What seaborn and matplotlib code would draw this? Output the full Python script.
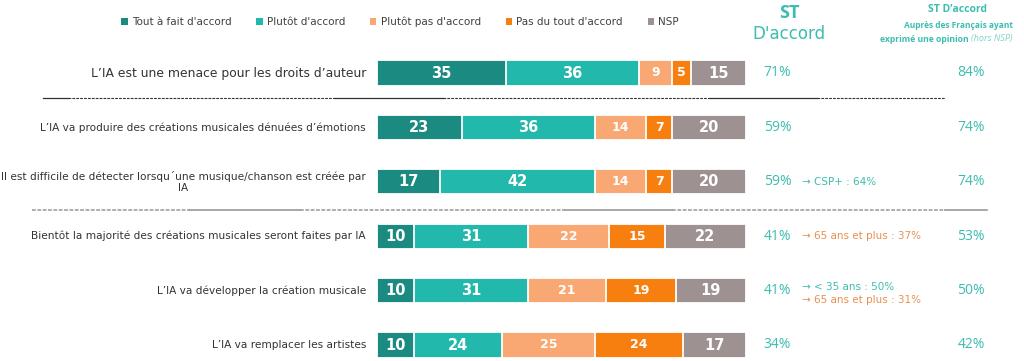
import numpy as np
import pandas as pd
import seaborn as sns
import matplotlib.pyplot as plt
from matplotlib.patches import Patch

statements = [
    "L\u2019IA est une menace pour les droits d\u2019auteur",
    "L\u2019IA va produire des cr\u00e9ations musicales d\u00e9nu\u00e9es d\u2019\u00e9motions",
    "Il est difficile de d\u00e9tecter lorsqu\u00b4une musique/chanson est cr\u00e9\u00e9e par\nIA",
    "Bient\u00f4t la majorit\u00e9 des cr\u00e9ations musicales seront faites par IA",
    "L\u2019IA va d\u00e9velopper la cr\u00e9ation musicale",
    "L\u2019IA va remplacer les artistes",
]
categories = ["Tout \u00e0 fait d'accord", "Plut\u00f4t d'accord", "Plut\u00f4t pas d'accord",
              "Pas du tout d'accord", "NSP"]
tout_a_fait = [35, 23, 17, 10, 10, 10]
plutot = [36, 36, 42, 31, 31, 24]
plutot_pas = [9, 14, 14, 22, 21, 25]
pas_du_tout = [5, 7, 7, 15, 19, 24]
nsp = [15, 20, 20, 22, 19, 17]
st_accord = [71, 59, 59, 41, 41, 34]
st_hors_nsp = [84, 74, 74, 53, 50, 42]

colors = ["#1b8a80", "#22b8ab", "#f9a873", "#f77f10", "#9e9191"]
teal_txt = "#3dbdb0"
orange_txt = "#e8904f"

series = [tout_a_fait, plutot, plutot_pas, pas_du_tout, nsp]
df = pd.DataFrame({"statement": statements})
cum = np.cumsum(np.array(series), axis=0)

fig = plt.figure(figsize=(10.24, 3.61), dpi=100)
ov = fig.add_axes([0, 0, 1, 1])
ov.set_xlim(0, 1024)
ov.set_ylim(361, 0)
ov.axis("off")

ax = fig.add_axes([377 / 1024, 0, 369 / 1024, 1])
# draw from the full stack down so each shorter bar sits on top
for k in range(len(series) - 1, -1, -1):
    df["val"] = cum[k]
    sns.barplot(data=df, x="val", y="statement", color=colors[k], saturation=1,
                width=0.46, edgecolor="white", linewidth=1.3, errorbar=None,
                orient="h", ax=ax)
ax.set_xlim(0, 100)
ax.set_ylim((361 - 73) / 54.4, -73 / 54.4)
ax.axis("off")

base = "DejaVu Sans"
num_font = "Open Sans"

# segment labels
for i in range(len(statements)):
    start = 0
    for k, s in enumerate(series):
        v = s[i]
        small = k in (2, 3)
        ax.text(start + v / 2, i, str(v), ha="center", va="center", color="white",
                fontweight="bold", fontsize=9 if small else 10.5, family=base)
        start += v
    ax.text(-3, i, statements[i], ha="right", va="center", multialignment="center",
            fontsize=8.9 if i == 0 else 7.6, color="#333333", family=base, clip_on=False)
    ax.text(104.8, i, f"{st_accord[i]}%", ha="left", va="center", fontsize=10,
            color=teal_txt, family=num_font, clip_on=False)
    ax.text(157.3, i, f"{st_hors_nsp[i]}%", ha="left", va="center", fontsize=10,
            color=teal_txt, family=num_font, clip_on=False)

# notes
note_kw = dict(ha="left", va="center", fontsize=7.5, family=base, clip_on=False)
ax.text(115.2, 2, "\u2192 CSP+ : 64%", color=teal_txt, **note_kw)
ax.text(115.2, 3, "\u2192 65 ans et plus : 37%", color=orange_txt, **note_kw)
ax.text(115.2, 4 - 0.06, "\u2192 < 35 ans : 50%", color=teal_txt, **note_kw)
ax.text(115.2, 4 + 0.18, "\u2192 65 ans et plus : 31%", color=orange_txt, **note_kw)

# separators
for x0, x1, ls in [(43, 68, "-"), (68, 335, "--"), (335, 443, "-"), (443, 710, "--"),
                   (710, 817, "-"), (817, 945, "--")]:
    if ls == "-":
        ov.plot([x0, x1], [98, 98], color="#333333", lw=0.9)
    else:
        ov.plot([x0, x1], [98, 98], color="#333333", lw=0.8, dashes=(2.5, 1))
for x0, x1, ls in [(32, 190, "--"), (190, 300, "-"), (300, 565, "--"), (565, 672, "-"),
                   (672, 945, "--"), (945, 987, "-")]:
    if ls == "-":
        ov.plot([x0, x1], [210, 210], color="#999999", lw=1.2)
    else:
        ov.plot([x0, x1], [210, 210], color="#999999", lw=1.1, dashes=(2.5, 1))

# headers
ov.text(789, 13, "ST", ha="center", va="center", fontsize=13, fontweight="bold",
        color=teal_txt, family=num_font)
ov.text(789, 34, "D'accord", ha="center", va="center", fontsize=12,
        color=teal_txt, family=base)
ov.text(958, 10, "ST D\u2019accord", ha="center", va="center", fontsize=7.5,
        fontweight="bold", color=teal_txt, family=num_font)
ov.text(958, 25, "Aupr\u00e8s des Fran\u00e7ais ayant", ha="center", va="center",
        fontsize=6, fontweight="bold", color=teal_txt, family=num_font)
ov.text(969, 39, "exprim\u00e9 une opinion", ha="right", va="center",
        fontsize=6.2, fontweight="bold", color=teal_txt, family=num_font)
ov.text(971, 39, "(hors NSP)", ha="left", va="center", fontsize=6.6,
        style="italic", color="#7fd3ca", family=num_font)

handles = [Patch(facecolor=c, edgecolor="none") for c in colors]
fig.legend(handles, categories, loc="center", bbox_to_anchor=(400 / 1024, 1 - 22 / 361),
           ncol=5, frameon=False, handlelength=0.6, handleheight=0.6,
           handletextpad=0.4, columnspacing=2.4, labelcolor="#404040",
           prop={"family": base, "size": 7.5})

fig.savefig("out.png", dpi=100)
